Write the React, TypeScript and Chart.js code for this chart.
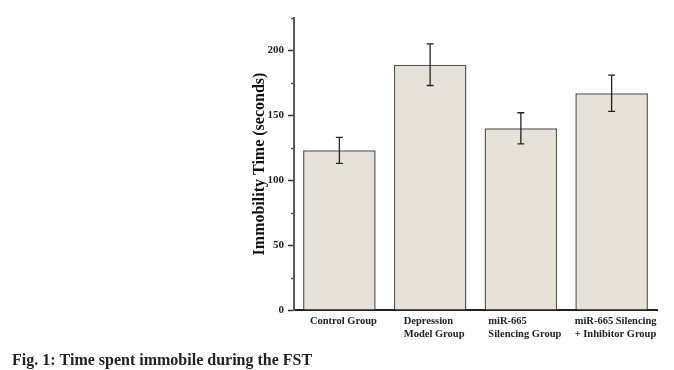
import React, { useEffect, useRef } from "react";
import { Chart, registerables } from "chart.js";

Chart.register(...registerables);

const categories: string[][] = [
  ["Control Group"],
  ["Depression", "Model Group"],
  ["miR-665", "Silencing Group"],
  ["miR-665 Silencing", "+ Inhibitor Group"],
];
const means: number[] = [123, 189, 140, 167];
const errors: number[] = [10, 16, 12, 14];
const yMax = 225;
const yStep = 25;
const yTitle = "Immobility Time (seconds)";
const caption = "Fig. 1: Time spent immobile during the FST";

const SERIF = "'Liberation Serif', 'Times New Roman', serif";

const extrasPlugin = {
  id: "extras",
  afterDatasetsDraw(chart: any) {
    const ctx = chart.ctx;
    const y = chart.scales.y;
    const meta = chart.getDatasetMeta(0);
    ctx.save();
    ctx.strokeStyle = "#222";
    ctx.lineWidth = 1.3;
    meta.data.forEach((bar: any, i: number) => {
      const x = bar.x;
      const top = y.getPixelForValue(means[i] + errors[i]);
      const bot = y.getPixelForValue(means[i] - errors[i]);
      ctx.beginPath();
      ctx.moveTo(x, top);
      ctx.lineTo(x, bot);
      ctx.moveTo(x - 3.5, top);
      ctx.lineTo(x + 3.5, top);
      ctx.moveTo(x - 3.5, bot);
      ctx.lineTo(x + 3.5, bot);
      ctx.stroke();
    });
    ctx.restore();
  },
  afterDraw(chart: any) {
    const ctx = chart.ctx;
    const y = chart.scales.y;
    const area = chart.chartArea;
    const meta = chart.getDatasetMeta(0);
    ctx.save();
    ctx.strokeStyle = "#555";
    ctx.lineWidth = 1.5;
    for (let v = yStep; v <= yMax; v += 2 * yStep) {
      const py = Math.round(y.getPixelForValue(v)) + 0.5;
      ctx.beginPath();
      ctx.moveTo(area.left - 3, py);
      ctx.lineTo(area.left, py);
      ctx.stroke();
    }
    ctx.fillStyle = "#222";
    ctx.font = `bold 10.5px ${SERIF}`;
    ctx.textBaseline = "middle";
    ctx.textAlign = "left";
    meta.data.forEach((bar: any, i: number) => {
      const lines = categories[i];
      const w = Math.max(...lines.map((l) => ctx.measureText(l).width));
      const left = bar.x + 4 - w / 2;
      lines.forEach((l, j) => {
        ctx.fillText(l, left, area.bottom + 11 + j * 13);
      });
    });
    ctx.font = `bold 16px ${SERIF}`;
    ctx.textBaseline = "alphabetic";
    ctx.fillText(caption, 12, 365);
    ctx.restore();
  },
};

export default function App() {
  const ref = useRef<HTMLCanvasElement>(null);
  useEffect(() => {
    if (!ref.current) return;
    const chart = new Chart(ref.current, {
      type: "bar",
      data: {
        labels: categories.map((c) => c.join(" ")),
        datasets: [
          {
            data: means,
            backgroundColor: "#e6e2d8",
            borderColor: "#555",
            borderWidth: 1.5,
            categoryPercentage: 0.8,
            barPercentage: 1,
          },
        ],
      },
      options: {
        responsive: false,
        animation: false,
        events: [],
        layout: { padding: { left: 246, right: 17, top: 18, bottom: 60 } },
        plugins: { legend: { display: false }, tooltip: { enabled: false } },
        scales: {
          x: {
            grid: { display: false, drawTicks: false },
            border: { display: true, color: "#222", width: 2 },
            ticks: { display: false },
            afterFit: (s: any) => {
              s.height = 0;
            },
          },
          y: {
            min: 0,
            max: yMax,
            grid: {
              drawOnChartArea: false,
              drawTicks: true,
              tickLength: 6,
              tickWidth: 1.5,
              tickColor: (c: any) =>
                c.tick && c.tick.value % 50 === 0 ? "#333" : "rgba(0,0,0,0)",
            },
            border: { display: true, color: "#5a5a5a", width: 2 },
            ticks: {
              stepSize: yStep,
              padding: 4,
              color: "#222",
              font: { family: SERIF, size: 11, weight: "bold" },
              callback: (v: any) => (Number(v) % 50 === 0 ? String(v) : ""),
            },
            title: {
              display: true,
              text: yTitle,
              color: "#111",
              font: { family: SERIF, size: 16, weight: "bold" },
              padding: { top: 4, bottom: 4 },
            },
            afterFit: (s: any) => {
              s.width = 48;
            },
          },
        },
      },
      plugins: [extrasPlugin],
    });
    return () => chart.destroy();
  }, []);
  return (
    <div style={{ position: "fixed", left: 0, top: 0, width: 674, height: 370, background: "#fff" }}>
      <canvas ref={ref} width={674} height={370} style={{ width: 674, height: 370 }} />
    </div>
  );
}
